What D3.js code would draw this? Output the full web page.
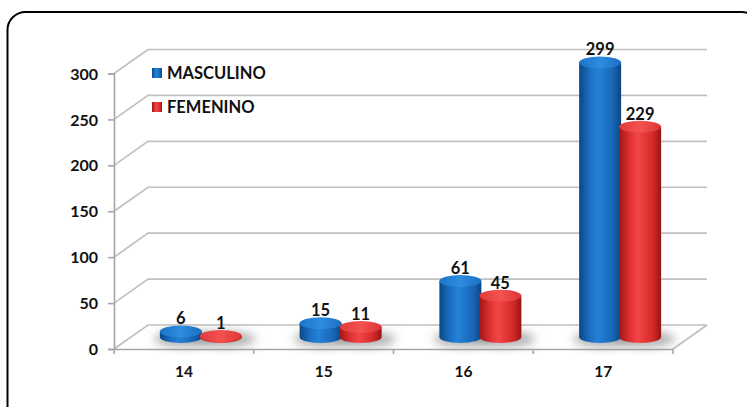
<!DOCTYPE html>
<html>
<head>
<meta charset="utf-8">
<script src="https://cdn.jsdelivr.net/npm/d3@7"></script>
<style>
  body { margin: 0; background: #fff; }
  text { font-family: Lato, "Open Sans", sans-serif; font-weight: bold; fill: #111; }
</style>
</head>
<body>
<div id="chart"></div>
<script>
// ages and counts per sex
var edades = ["14", "15", "16", "17"];
var masculino = [6, 15, 61, 299];
var femenino = [1, 11, 45, 229];
var yTicks = [0, 50, 100, 150, 200, 250, 300];
var seriesNames = ["MASCULINO", "FEMENINO"];

var W = 747, H = 407;
var depth = {dx: 34, dy: -24};   // offset of the back wall
var barW = 42, ry = 6;

var svg = d3.select("#chart").append("svg")
  .attr("width", W).attr("height", H);

var defs = svg.append("defs");

function cylGrad(id, stops) {
  var g = defs.append("linearGradient").attr("id", id)
    .attr("x1", "0%").attr("x2", "100%").attr("y1", "0%").attr("y2", "0%");
  stops.forEach(function(s) {
    g.append("stop").attr("offset", s[0]).attr("stop-color", s[1]);
  });
}
cylGrad("blueBody", [["0%", "#0a4787"], ["25%", "#1a6fc2"], ["45%", "#2482d8"], ["80%", "#1866b6"], ["100%", "#0b4585"]]);
cylGrad("redBody", [["0%", "#a01616"], ["25%", "#dc3032"], ["45%", "#f24646"], ["80%", "#d42a2a"], ["100%", "#981414"]]);
cylGrad("blueTop", [["0%", "#1d74c8"], ["50%", "#2e8ce0"], ["100%", "#1c6fc0"]]);
cylGrad("redTop", [["0%", "#e23a3a"], ["50%", "#f45252"], ["100%", "#dd3434"]]);

defs.append("filter").attr("id", "blur")
  .attr("x", "-50%").attr("y", "-50%").attr("width", "200%").attr("height", "200%")
  .append("feGaussianBlur").attr("stdDeviation", 5);

// outer frame (runs off the right and bottom)
svg.append("rect")
  .attr("x", 7.5).attr("y", 12).attr("width", 752).attr("height", 420)
  .attr("rx", 18).attr("ry", 18)
  .attr("fill", "none").attr("stroke", "#000").attr("stroke-width", 2);

// scales
var x = d3.scaleBand().domain(edades).range([114, 673]);
var y = d3.scaleLinear().domain([0, 300]).range([349, 73.5]);

var x0 = x.range()[0], x1 = x.range()[1];

// walls and gridlines
var grid = svg.append("g").attr("stroke", "#c0c0c0").attr("stroke-width", 1.7).attr("fill", "none");
yTicks.forEach(function(t) {
  grid.append("path")
    .attr("d", "M" + x0 + "," + y(t) + "L" + (x0 + depth.dx) + "," + (y(t) + depth.dy) +
               "L" + (x1 + depth.dx) + "," + (y(t) + depth.dy));
});
// floor right edge
grid.append("path")
  .attr("d", "M" + x1 + "," + y(0) + "L" + (x1 + depth.dx) + "," + (y(0) + depth.dy));

// axes
var yAxis = d3.axisLeft(y).tickValues(yTicks).tickSize(6).tickPadding(10);
var gy = svg.append("g").attr("transform", "translate(" + x0 + ",0)").call(yAxis);
gy.select(".domain").attr("stroke", "#a6a6a6").attr("stroke-width", 1.6);
gy.selectAll(".tick line").attr("stroke", "#a6a6a6").attr("stroke-width", 1.6);
gy.selectAll("text").attr("font-size", 16).attr("fill", "#111").attr("dy", "0.35em");

var xAxis = d3.axisBottom(x).tickSize(0).tickPadding(17);
var gx = svg.append("g").attr("transform", "translate(0," + y(0) + ")").call(xAxis);
gx.select(".domain").attr("stroke", "#a6a6a6").attr("stroke-width", 1.6);
gx.selectAll("text").attr("font-size", 15.5).attr("fill", "#111");
gx.selectAll(".sep").data(edades.concat(["end"])).enter().append("line")
  .attr("x1", function(d, i) { return x0 + i * x.bandwidth(); })
  .attr("x2", function(d, i) { return x0 + i * x.bandwidth(); })
  .attr("y1", 0).attr("y2", 5)
  .attr("stroke", "#a6a6a6").attr("stroke-width", 1.6);

// bars sit halfway into the depth
var mid = {dx: depth.dx / 2, dy: depth.dy / 2};
var series = [
  {name: seriesNames[0], values: masculino, off: -20, body: "url(#blueBody)", top: "url(#blueTop)"},
  {name: seriesNames[1], values: femenino, off: 20, body: "url(#redBody)", top: "url(#redTop)"}
];

// soft shadows on the floor
var shadows = svg.append("g").attr("filter", "url(#blur)");
series.forEach(function(s) {
  shadows.selectAll(null).data(s.values).enter().append("ellipse")
    .attr("cx", function(d, i) { return x(edades[i]) + x.bandwidth() / 2 + mid.dx + s.off + 4; })
    .attr("cy", y(0) + mid.dy + 2)
    .attr("rx", barW / 2 + 10).attr("ry", 8)
    .attr("fill", "#7f7f7f").attr("opacity", 0.6);
});

series.forEach(function(s) {
  var g = svg.append("g");
  var bars = g.selectAll("g").data(s.values).enter().append("g");
  bars.each(function(d, i) {
    var cx = x(edades[i]) + x.bandwidth() / 2 + mid.dx + s.off;
    var base = y(0) + mid.dy;
    var top = y(d) + mid.dy;
    var l = cx - barW / 2, r = cx + barW / 2;
    var el = d3.select(this);
    el.append("path")
      .attr("d", "M" + l + "," + top + "L" + l + "," + base +
                 "A" + (barW / 2) + "," + ry + " 0 0 0 " + r + "," + base +
                 "L" + r + "," + top + "Z")
      .attr("fill", s.body);
    el.append("ellipse")
      .attr("cx", cx).attr("cy", top)
      .attr("rx", barW / 2).attr("ry", ry)
      .attr("fill", s.top);
    el.append("text")
      .attr("x", cx).attr("y", top - ry - 1)
      .attr("text-anchor", "middle")
      .attr("font-size", 16.5)
      .text(d);
  });
});

// legend
var legend = svg.append("g");
series.forEach(function(s, i) {
  var ly = 73 + i * 34;
  legend.append("rect")
    .attr("x", 152).attr("y", ly - 5).attr("width", 10).attr("height", 10)
    .attr("fill", s.body);
  legend.append("text")
    .attr("x", 167).attr("y", ly + 6)
    .attr("font-size", 16.5)
    .text(s.name);
});
</script>
</body>
</html>
